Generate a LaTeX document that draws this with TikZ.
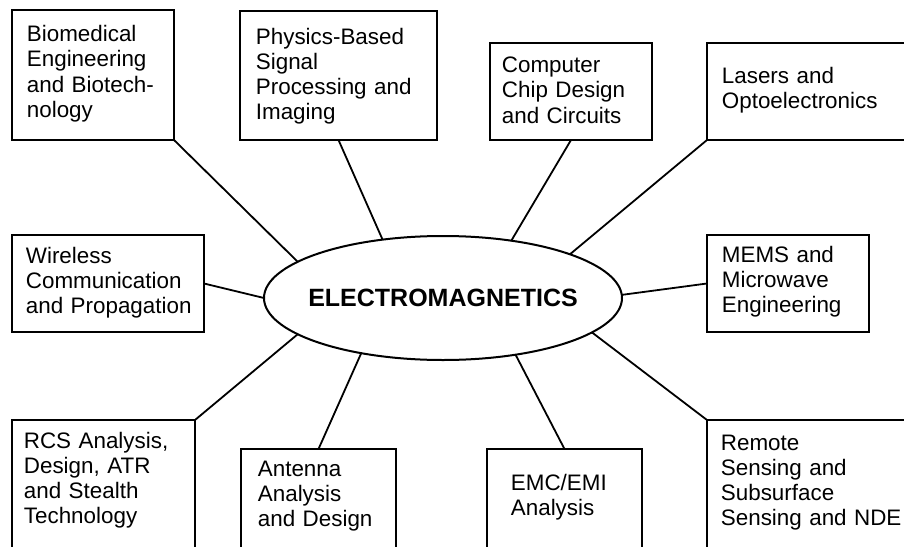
\documentclass[tikz,border=0pt]{standalone}
\usepackage{fontspec}
\setmainfont{Liberation Sans}
\usetikzlibrary{shapes.geometric}
\tikzset{
    topic/.style 2 args={rectangle,draw,line width=1pt,inner sep=0pt,outer sep=0pt,anchor=north west,minimum width=#1,minimum height=#2},
    topictext/.style={anchor=base west,inner sep=0pt,text width=100pt,align=left,font=\fontsize{11.2}{12.6}\selectfont},
    hub/.style={ellipse,draw,line width=1pt,minimum width=179pt,minimum height=62pt,inner xsep=-5pt,inner ysep=0pt,outer sep=0pt,font=\fontsize{12.5}{15}\selectfont\bfseries},
    spoke/.style={line width=0.9pt},
    }

\begin{document}
\begin{tikzpicture}[x=0.5pt,y=-0.5pt]
    \useasboundingbox (0,0) rectangle (904,546);
    \clip (0,0) rectangle (904,546);

    \node[hub] (hub) at (443,298) {ELECTROMAGNETICS};

    % boxes
    \node[topic={81pt}{65pt}] (bio) at (12,10) {};
    \node[topic={98.5pt}{64.5pt}] (phys) at (240,11) {};
    \node[topic={81pt}{48.5pt}] (chip) at (490,43) {};
    \node[topic={115pt}{48.5pt}] (lasers) at (707,43) {};
    \node[topic={96pt}{48.5pt}] (wireless) at (12,235) {};
    \node[topic={81pt}{48.5pt}] (mems) at (707,235) {};
    \node[topic={91.5pt}{75pt}] (rcs) at (12,420) {};
    \node[topic={77.5pt}{60pt}] (antenna) at (241,449) {};
    \node[topic={77.5pt}{60pt}] (emc) at (487,449) {};
    \node[topic={115pt}{75pt}] (remote) at (707,420) {};

    % texts
    \node[topictext] (bio-txt) at (26.5,41.7) {Biomedical\\Engineering\\and Biotech-\\nology};
    \node[topictext] (phys-txt) at (255.5,44) {Physics-Based\\Signal\\Processing and\\Imaging};
    \node[topictext] (chip-txt) at (501.5,72.7) {Computer\\Chip Design\\and Circuits};
    \node[topictext] (lasers-txt) at (721.5,83.3) {Lasers and\\Optoelectronics};
    \node[topictext] (wireless-txt) at (25.5,263.3) {Wireless\\Communication\\and Propagation};
    \node[topictext] (mems-txt) at (721.5,262.3) {MEMS and\\Microwave\\Engineering};
    \node[topictext] (rcs-txt) at (23.5,448.3) {RCS Analysis,\\Design, ATR\\and Stealth\\Technology};
    \node[topictext] (antenna-txt) at (257.5,476) {Antenna\\Analysis\\and Design};
    \node[topictext] (emc-txt) at (510.5,490) {EMC/EMI\\Analysis};
    \node[topictext] (remote-txt) at (720.5,450) {Remote\\Sensing and\\Subsurface\\Sensing and NDE};

    % spokes
    \draw[spoke] (bio.south east) -- (hub.166);
    \draw[spoke] (phys.south) -- (hub.136);
    \draw[spoke] (chip.south) -- (hub.40);
    \draw[spoke] (lasers.south west) -- (hub.19);
    \draw[spoke] (wireless.east) -- (hub.180);
    \draw[spoke] (mems.west) -- (hub.1);
    \draw[spoke] (rcs.north east) -- (hub.194);
    \draw[spoke] (antenna.north) -- (hub.214);
    \draw[spoke] (emc.north) -- (hub.322);
    \draw[spoke] (remote.north west) -- (hub.347);
\end{tikzpicture}
\end{document}
